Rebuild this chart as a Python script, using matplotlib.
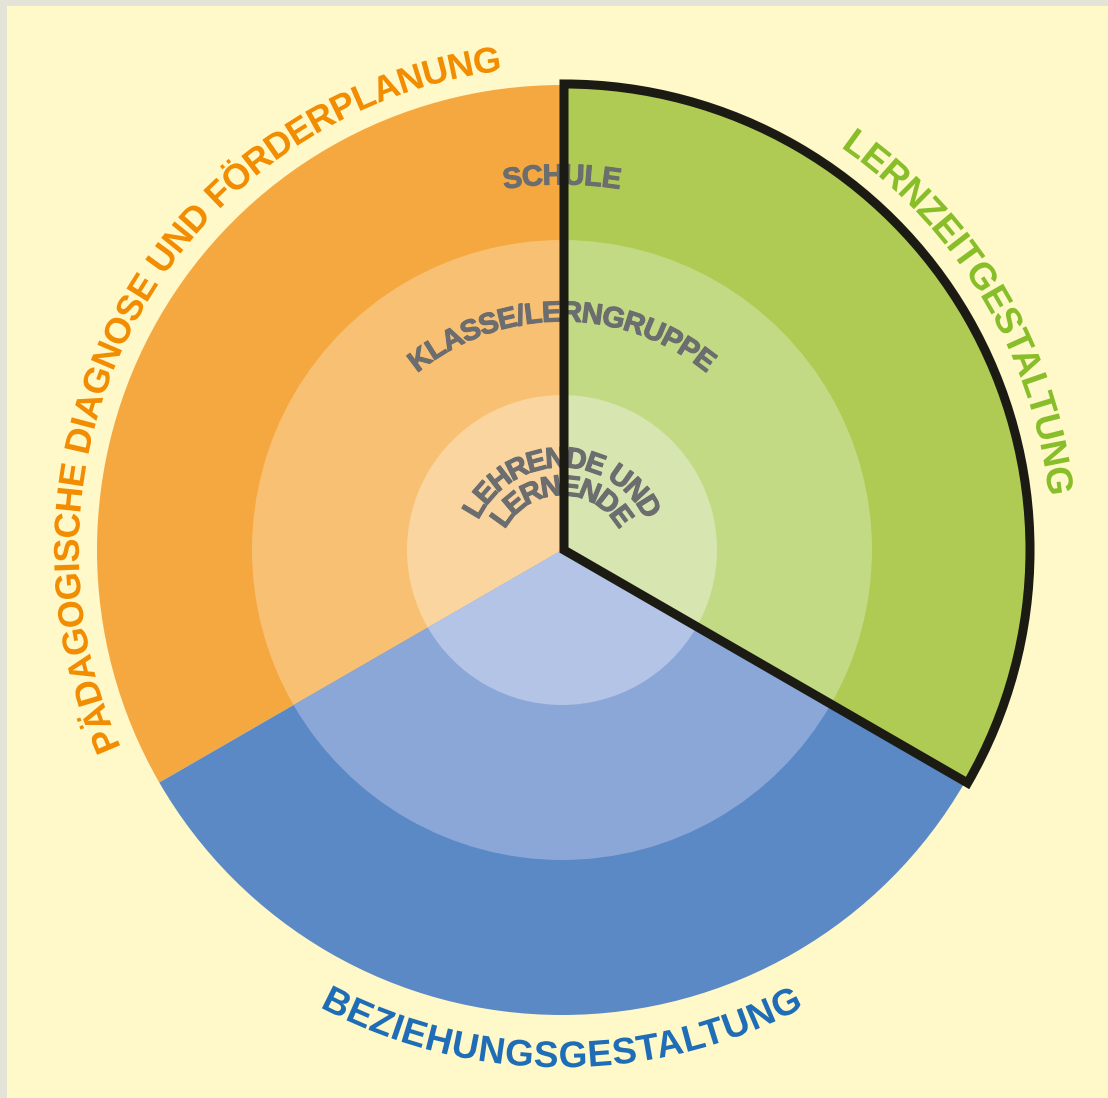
import numpy as np
import matplotlib
matplotlib.use("Agg")
import matplotlib.pyplot as plt
import matplotlib.patheffects as pe
from matplotlib.patches import Wedge, Rectangle
from matplotlib.font_manager import FontProperties, findfont, get_font
from matplotlib.ft2font import Kerning

# ---------------- data ----------------
areas = ["PÄDAGOGISCHE DIAGNOSE UND FÖRDERPLANUNG",
         "BEZIEHUNGSGESTALTUNG",
         "LERNZEITGESTALTUNG"]
area_shares = [1, 1, 1]
levels = ["LEHRENDE UND", "LERNENDE", "KLASSE/LERNGRUPPE", "SCHULE"]
level_radii = [1, 2, 3]          # inner circle, middle ring, outer ring
highlighted = "LERNZEITGESTALTUNG"

# ---------------- style ----------------
W, H, DPI = 1108, 1098, 100
CX, CY = 562, H - 550
R_UNIT = 155
base_cols = ["#F6A840", "#5A89C6", "#AFCB53"]
mid_cols = ["#F8C073", "#8AA7D7", "#C3DA85"]
inner_cols = ["#FAD59F", "#B4C4E6", "#D7E6B0"]
label_cols = ["#F28C00", "#1E6DB6", "#88BE2A"]
GRAY = "#6B6D6F"
BG = "#FFF8C8"
BORDER = "#E3E3D8"

fig = plt.figure(figsize=(W / DPI, H / DPI), dpi=DPI)
fig.patch.set_facecolor(BORDER)
ax = fig.add_axes([0, 0, 1, 1])

FP = FontProperties(family="Liberation Sans", weight="bold")


def advances(text, size_px):
    font = get_font(findfont(FP))
    font.set_size(size_px * 72 / DPI, DPI)
    out = []
    prev = None
    for ch in text:
        idx = font.get_char_index(ord(ch))
        kern = 0.0
        if prev is not None:
            try:
                kern = font.get_kerning(prev, idx, Kerning.DEFAULT) / 64
            except Exception:
                kern = 0.0
        g = font.load_char(ord(ch))
        out.append((kern, g.linearHoriAdvance / 65536))
        prev = idx
    return out


def curved(text, cx, cy, r_mid, mid_deg, size_px, color, outward=True,
           zorder=4, stroke=0.0):
    items = advances(text, size_px)
    centers, advs = [], []
    x = 0.0
    for kern, adv in items:
        x += kern
        centers.append(x + adv / 2)
        advs.append(adv)
        x += adv
    s = np.array(centers) - x / 2
    advs = np.array(advs)
    cap = 0.716 * size_px
    if outward:
        ang = mid_deg - np.degrees(s / r_mid)
        r_base = r_mid - cap / 2
        rot = ang - 90
    else:
        ang = mid_deg + np.degrees(s / r_mid)
        r_base = r_mid + cap / 2
        rot = ang + 90
    fp = FP.copy()
    fp.set_size(size_px * 72 / DPI)
    if stroke:
        effects = [pe.withStroke(linewidth=stroke, foreground=color)]
    else:
        effects = [pe.Normal()]
    for ch, a, ro, adv in zip(text, ang, rot, advs):
        if ch == " ":
            continue
        # glyph centre on the baseline circle, pen origin half an advance back
        bx = cx + r_base * np.cos(np.radians(a))
        by = cy + r_base * np.sin(np.radians(a))
        px = bx - adv / 2 * np.cos(np.radians(ro))
        py = by - adv / 2 * np.sin(np.radians(ro))
        ax.text(px, py, ch, rotation=ro % 360, rotation_mode="anchor",
                ha="left", va="baseline", fontproperties=fp,
                color=color, zorder=zorder, path_effects=effects)


# background
ax.add_patch(Rectangle((7, 0), W - 7, H - 6, facecolor=BG, edgecolor="none",
                       zorder=0))

# rings (outer to inner) drawn as pies
ring_colors = [inner_cols, mid_cols, base_cols]
outer_wedges = None
for lvl in [2, 1, 0]:
    wedges, _ = ax.pie(area_shares, center=(CX, CY),
                       radius=level_radii[lvl] * R_UNIT, startangle=90,
                       counterclock=True, colors=ring_colors[lvl],
                       wedgeprops=dict(linewidth=0))
    for w in wedges:
        w.set_zorder(1 + (2 - lvl))
    if lvl == 2:
        outer_wedges = wedges

# highlighted outline
hi = areas.index(highlighted)
hw = outer_wedges[hi]
ax.add_patch(Wedge((CX + 2, CY), hw.r + 1, hw.theta1, hw.theta2, fill=False,
                   edgecolor="#1B1B14", linewidth=6.5, joinstyle="miter",
                   zorder=6))

# outer labels
curved(areas[0], CX, CY, 496, 150.6, 36, label_cols[0], outward=True)
curved(areas[1], CX, CY, 504, 270, 37, label_cols[1], outward=False)
curved(areas[2], CX, CY, 503, 30.8, 37, label_cols[2], outward=True)

# level labels
curved(levels[3], CX, CY, 376, 90, 29, GRAY, stroke=0.8)
curved(levels[2], CX, CY, 239, 90, 29, GRAY, stroke=0.8)
curved(levels[0], CX, H - 560, 103, 90, 29, GRAY, stroke=0.8)
curved(levels[1], CX, H - 560, 75, 90, 29, GRAY, stroke=0.8)

ax.set_xlim(0, W)
ax.set_ylim(0, H)
ax.set_aspect("auto")
ax.axis("off")

fig.savefig("out.png", dpi=DPI, facecolor=fig.get_facecolor())
